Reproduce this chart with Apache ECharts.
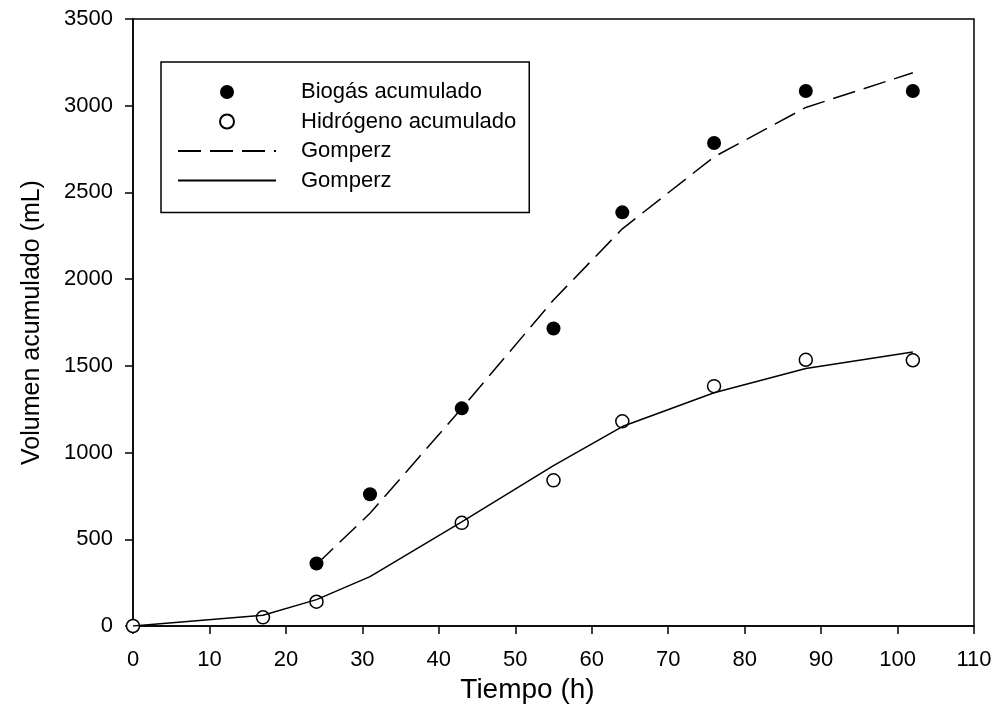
<!DOCTYPE html>
<html>
<head>
<meta charset="utf-8">
<script src="https://cdn.jsdelivr.net/npm/echarts@6/dist/echarts.min.js"></script>
<style>html,body{margin:0;padding:0;background:#fff}#c{width:998px;height:727px}</style>
</head>
<body>
<div id="c"></div>
<script>
// Data
const biogasX = [24, 31, 43, 55, 64, 76, 88, 102];
const biogasY = [360, 760, 1255, 1715, 2385, 2785, 3085, 3085];
const hidroX = [0, 17, 24, 43, 55, 64, 76, 88, 102];
const hidroY = [0, 50, 140, 595, 840, 1180, 1383, 1535, 1532];
const gompBioX = [24, 31, 43, 55, 64, 76, 88, 102];
const gompBioY = [355, 650, 1255, 1880, 2290, 2705, 2990, 3190];
const gompHidX = [0, 17, 24, 31, 43, 55, 64, 76, 88, 102];
const gompHidY = [0, 62, 152, 285, 600, 925, 1150, 1345, 1485, 1580];
const xTicks = {min: 0, max: 110, interval: 10};
const yTicks = {min: 0, max: 3500, interval: 500};
const names = ['Biogás acumulado', 'Hidrógeno acumulado', 'Gomperz', 'Gomperz '];

const zip = (xs, ys) => xs.map((x, i) => [x, ys[i]]);
const FONT = 'Arial, "Liberation Sans", sans-serif';

const chart = echarts.init(document.getElementById('c'), null, {renderer: 'canvas'});
chart.setOption({
  animation: false,
  backgroundColor: '#fff',
  grid: {left: 133, top: 19, right: 24, bottom: 101, show: true, borderColor: '#000', borderWidth: 1.5, backgroundColor: 'transparent'},
  legend: {
    orient: 'vertical', left: 161, top: 62,
    data: [
      {name: names[0]},
      {name: names[1]},
      {name: names[2], itemStyle: {opacity: 0}},
      {name: names[3], itemStyle: {opacity: 0}}
    ],
    itemWidth: 98, itemHeight: 14, itemGap: 7.5,
    padding: [19, 13, 21, 16],
    borderColor: '#000', borderWidth: 1.5, backgroundColor: '#fff',
    textStyle: {fontFamily: FONT, fontSize: 22, color: '#000', lineHeight: 22, padding: [0, 0, 0, 20]}
  },
  xAxis: {
    type: 'value', min: xTicks.min, max: xTicks.max, interval: xTicks.interval,
    name: 'Tiempo (h)', nameLocation: 'middle', nameGap: 44,
    nameTextStyle: {fontFamily: FONT, fontSize: 28, color: '#000', padding: [0, 52, 0, 0]},
    axisLine: {show: true, onZero: false, lineStyle: {color: '#000', width: 1.5}},
    axisTick: {show: true, inside: false, length: 8, lineStyle: {color: '#000', width: 1.5}},
    axisLabel: {fontFamily: FONT, fontSize: 22, color: '#000', margin: 23, formatter: v => String(v)},
    splitLine: {show: false}
  },
  yAxis: {
    type: 'value', min: yTicks.min, max: yTicks.max, interval: yTicks.interval,
    name: 'Volumen acumulado (mL)', nameLocation: 'middle', nameGap: 88,
    nameTextStyle: {fontFamily: FONT, fontSize: 25, color: '#000'},
    axisLine: {show: true, onZero: false, lineStyle: {color: '#000', width: 1.5}},
    axisTick: {show: true, inside: false, length: 8, lineStyle: {color: '#000', width: 1.5}},
    axisLabel: {fontFamily: FONT, fontSize: 22, color: '#000', margin: 20, formatter: v => String(v)},
    splitLine: {show: false}
  },
  series: [
    {
      name: names[0], type: 'scatter', data: zip(biogasX, biogasY),
      symbol: 'circle', symbolSize: 14, z: 2,
      itemStyle: {color: '#000', borderColor: '#000', borderWidth: 0, opacity: 1}
    },
    {
      name: names[1], type: 'scatter', data: zip(hidroX, hidroY),
      symbol: 'circle', symbolSize: 13, z: 2,
      itemStyle: {color: '#fff', borderColor: '#000', borderWidth: 1.5, opacity: 1}
    },
    {
      name: names[2], type: 'line', data: zip(gompBioX, gompBioY),
      symbol: 'none', showSymbol: false, z: 3,
      lineStyle: {color: '#000', width: 1.5, type: [23, 9]},
      itemStyle: {color: '#000'}
    },
    {
      name: names[3], type: 'line', data: zip(gompHidX, gompHidY),
      symbol: 'none', showSymbol: false, z: 3,
      lineStyle: {color: '#000', width: 1.5, type: 'solid'},
      itemStyle: {color: '#000'}
    }
  ]
});
</script>
</body>
</html>
